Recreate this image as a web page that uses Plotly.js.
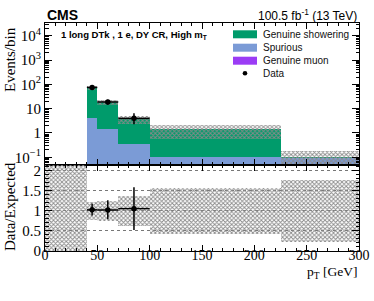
<!DOCTYPE html>
<html>
<head>
<meta charset="utf-8">
<script src="https://cdn.plot.ly/plotly-3.0.1.min.js"></script>
<style>html,body{margin:0;padding:0;background:#fff;}#plot{width:374px;height:301px;}</style>
</head>
<body>
<div id="plot"></div>
<script>
// ---- data ----
var binEdges    = [0, 40, 50, 70, 100, 225, 300];
var showering   = [0, 69, 17.2, 3.45, 1.3, 0.004];
var spurious    = [0, 4.2, 1.4, 0.34, 0.1, 0.096];
var muon        = [0, 0.004, 0.002, 0.002, 0.001, 0.0005];
var dataCounts  = [null, 75, 19, 4, null, null];
var dataErrUp   = [null, 8.7, 4.4, 2.5, null, null];
var dataErrDown = [null, 8.7, 4.3, 1.7, null, null];
var ratioErrUp  = [null, 0.15, 0.24, 0.53, null, null];
var ratioErrDown= [null, 0.14, 0.23, 0.53, null, null];
var bandLow     = [0, 0.77, 0.75, 0.62, 0.42, 0.22];
var bandHigh    = [2.3, 1.22, 1.25, 1.37, 1.57, 1.78];
var yTickVals   = [0.1, 1, 10, 100, 1000, 10000];
var yTickText   = ["10<sup>\u22121</sup>", "1", "10", "10<sup>2</sup>", "10<sup>3</sup>", "10<sup>4</sup>"];
var rTickVals   = [0, 0.5, 1, 1.5, 2];
var rTickText   = ["0", "0.5", "1", "1.5", "2"];
var xTickVals   = [0, 50, 100, 150, 200, 250, 300];

// ---- derived ----
var centers = [], widths = [], halfW = [];
for (var i = 0; i < binEdges.length - 1; i++) {
  centers.push((binEdges[i] + binEdges[i+1]) / 2);
  widths.push(binEdges[i+1] - binEdges[i]);
  halfW.push((binEdges[i+1] - binEdges[i]) / 2);
}
var total = [], lowStack = [], bandBase = [], bandH = [], ratio = [];
for (var i = 0; i < centers.length; i++) {
  var t = showering[i] + spurious[i] + muon[i];
  total.push(t > 0 ? t : null);
  lowStack.push(t > 0 ? spurious[i] + muon[i] : null);
  bandBase.push(t > 0 ? t * bandLow[i] : null);
  bandH.push(t > 0 ? t * (bandHigh[i] - bandLow[i]) : null);
  ratio.push(dataCounts[i] != null && t > 0 ? dataCounts[i] / t : null);
}
var rBase = [], rH = [];
for (var i = 0; i < centers.length; i++) { rBase.push(bandLow[i]); rH.push(bandHigh[i] - bandLow[i]); }

var GREEN = "#009b6b", BLUE = "#7b9bd6", PURPLE = "#9b3cf5";
var hatch = {shape: "x", size: 3, solidity: 0.5, fgcolor: "#8a8a8a", fillmode: "replace"};

var traces = [
  {type: "bar", x: centers, y: total, width: widths, marker: {color: GREEN, line: {width: 0}}, xaxis: "x", yaxis: "y", name: "Genuine showering", hoverinfo: "skip"},
  {type: "bar", x: centers, y: lowStack, width: widths, marker: {color: BLUE, line: {width: 0}}, xaxis: "x", yaxis: "y", name: "Spurious", hoverinfo: "skip"},
  {type: "bar", x: centers, y: muon, width: widths, marker: {color: PURPLE, line: {width: 0}}, xaxis: "x", yaxis: "y", name: "Genuine muon", hoverinfo: "skip"},
  {type: "bar", x: centers, y: bandH, base: bandBase, width: widths, marker: {color: "rgba(0,0,0,0)", line: {width: 0}, pattern: hatch}, xaxis: "x", yaxis: "y", name: "Unc.", hoverinfo: "skip"},
  {type: "scatter", mode: "markers", x: centers, y: dataCounts, marker: {color: "black", size: 5.5},
   error_y: {type: "data", symmetric: false, array: dataErrUp, arrayminus: dataErrDown, color: "black", thickness: 1.5, width: 0},
   error_x: {type: "data", array: halfW, color: "black", thickness: 1.5, width: 0},
   xaxis: "x", yaxis: "y", name: "Data", hoverinfo: "skip"},
  {type: "bar", x: centers, y: rH, base: rBase, width: widths, marker: {color: "rgba(0,0,0,0)", line: {width: 0}, pattern: hatch}, xaxis: "x2", yaxis: "y2", name: "Ratio unc.", hoverinfo: "skip"},
  {type: "scatter", mode: "markers", x: centers, y: ratio, marker: {color: "black", size: 5.5},
   error_y: {type: "data", symmetric: false, array: ratioErrUp, arrayminus: ratioErrDown, color: "black", thickness: 1.5, width: 0},
   error_x: {type: "data", array: halfW, color: "black", thickness: 1.5, width: 0},
   xaxis: "x2", yaxis: "y2", name: "Ratio", hoverinfo: "skip"}
];

// minor tick positions for the log axis
var logMinor = [];
for (var d = -2; d <= 4; d++) for (var m = 2; m <= 9; m++) logMinor.push(m * Math.pow(10, d));

var SERIF = "Liberation Serif, Times New Roman, serif";
var SANS = "Liberation Sans, Arial, sans-serif";
function px(x) { return (x - 45) / 314; }
function py(y) { return (251 - y) / 228; }

var axCommon = {showline: true, linecolor: "black", linewidth: 1, mirror: "allticks", ticks: "inside", tickcolor: "black", zeroline: false};

var layout = {
  width: 374, height: 301,
  margin: {l: 45, r: 15, t: 23, b: 50},
  paper_bgcolor: "white", plot_bgcolor: "white",
  showlegend: false, barmode: "overlay", bargap: 0,
  xaxis: Object.assign({}, axCommon, {domain: [0, 1], anchor: "y", range: [0, 300], tickvals: xTickVals, showticklabels: false, ticklen: 6, showgrid: false,
    minor: {ticks: "inside", ticklen: 3, dtick: 10, tick0: 0, tickcolor: "black", showgrid: false}}),
  yaxis: Object.assign({}, axCommon, {domain: [0.377, 1], anchor: "x", type: "log", range: [-1.32, 4.53], tickmode: "array", tickvals: yTickVals, ticktext: yTickText, ticklen: 7, showgrid: false,
    tickfont: {family: SERIF, size: 15, color: "black"},
    minor: {ticks: "inside", ticklen: 3.5, tickmode: "array", tickvals: logMinor, tickcolor: "black", showgrid: false}}),
  xaxis2: Object.assign({}, axCommon, {domain: [0, 1], anchor: "y2", range: [0, 300], tickmode: "array", tickvals: xTickVals, ticklen: 6, showgrid: false,
    ticklabelstandoff: -9,
    tickfont: {family: SERIF, size: 14, color: "black"},
    minor: {ticks: "inside", ticklen: 3, dtick: 10, tick0: 0, tickcolor: "black", showgrid: false}}),
  yaxis2: Object.assign({}, axCommon, {domain: [0, 0.377], anchor: "x2", range: [0, 2.14], tickmode: "array", tickvals: rTickVals, ticktext: rTickText, ticklen: 7,
    showgrid: true, gridcolor: "#777", griddash: "dot", gridwidth: 1,
    tickfont: {family: SERIF, size: 15, color: "black"},
    minor: {ticks: "inside", ticklen: 3.5, dtick: 0.1, tick0: 0, tickcolor: "black", showgrid: false}}),
  shapes: [
    {type: "rect", xref: "paper", yref: "paper", x0: px(233), x1: px(257), y0: py(38.3), y1: py(30.3), fillcolor: GREEN, line: {width: 0}},
    {type: "rect", xref: "paper", yref: "paper", x0: px(233), x1: px(257), y0: py(51.7), y1: py(43.7), fillcolor: BLUE, line: {width: 0}},
    {type: "rect", xref: "paper", yref: "paper", x0: px(233), x1: px(257), y0: py(64.7), y1: py(56.7), fillcolor: PURPLE, line: {width: 0}},
    {type: "circle", xref: "paper", yref: "paper", x0: px(242.7), x1: px(247.3), y0: py(75.6), y1: py(71.0), fillcolor: "black", line: {width: 0}}
  ],
  annotations: [
    {xref: "paper", yref: "paper", x: 0, y: py(15), xanchor: "left", yanchor: "middle", showarrow: false, text: "<b>CMS</b>", font: {family: SANS, size: 14, color: "black"}},
    {xref: "paper", yref: "paper", x: 1, y: py(15), xanchor: "right", yanchor: "middle", showarrow: false, text: "100.5 fb<sup>-1</sup> (13 TeV)", font: {family: SANS, size: 12, color: "black"}},
    {xref: "paper", yref: "paper", x: px(59), y: py(35), xanchor: "left", yanchor: "middle", showarrow: false, text: "<b>1 long DTk , 1 e, DY CR, High m<sub>T</sub></b>", font: {family: SANS, size: 9.5, color: "black"}},
    {xref: "paper", yref: "paper", x: px(261), y: py(34.3), xanchor: "left", yanchor: "middle", showarrow: false, text: "Genuine showering", font: {family: SANS, size: 10, color: "#111"}},
    {xref: "paper", yref: "paper", x: px(261), y: py(47.7), xanchor: "left", yanchor: "middle", showarrow: false, text: "Spurious", font: {family: SANS, size: 10, color: "#111"}},
    {xref: "paper", yref: "paper", x: px(261), y: py(60.7), xanchor: "left", yanchor: "middle", showarrow: false, text: "Genuine muon", font: {family: SANS, size: 10, color: "#111"}},
    {xref: "paper", yref: "paper", x: px(261), y: py(73.3), xanchor: "left", yanchor: "middle", showarrow: false, text: "Data", font: {family: SANS, size: 10, color: "#111"}},
    {xref: "paper", yref: "paper", x: px(10), y: py(60), xanchor: "center", yanchor: "middle", showarrow: false, textangle: -90, text: "Events/bin", font: {family: SERIF, size: 15, color: "black"}},
    {xref: "paper", yref: "paper", x: px(10), y: py(207), xanchor: "center", yanchor: "middle", showarrow: false, textangle: -90, text: "Data/Expected", font: {family: SERIF, size: 15, color: "black"}},
    {xref: "paper", yref: "paper", x: 1, y: py(272), xanchor: "right", yanchor: "middle", showarrow: false, text: "p<sub>T</sub> [GeV]", font: {family: SERIF, size: 13.5, color: "black"}}
  ]
};

Plotly.newPlot("plot", traces, layout, {staticPlot: true, displayModeBar: false});
</script>
</body>
</html>
